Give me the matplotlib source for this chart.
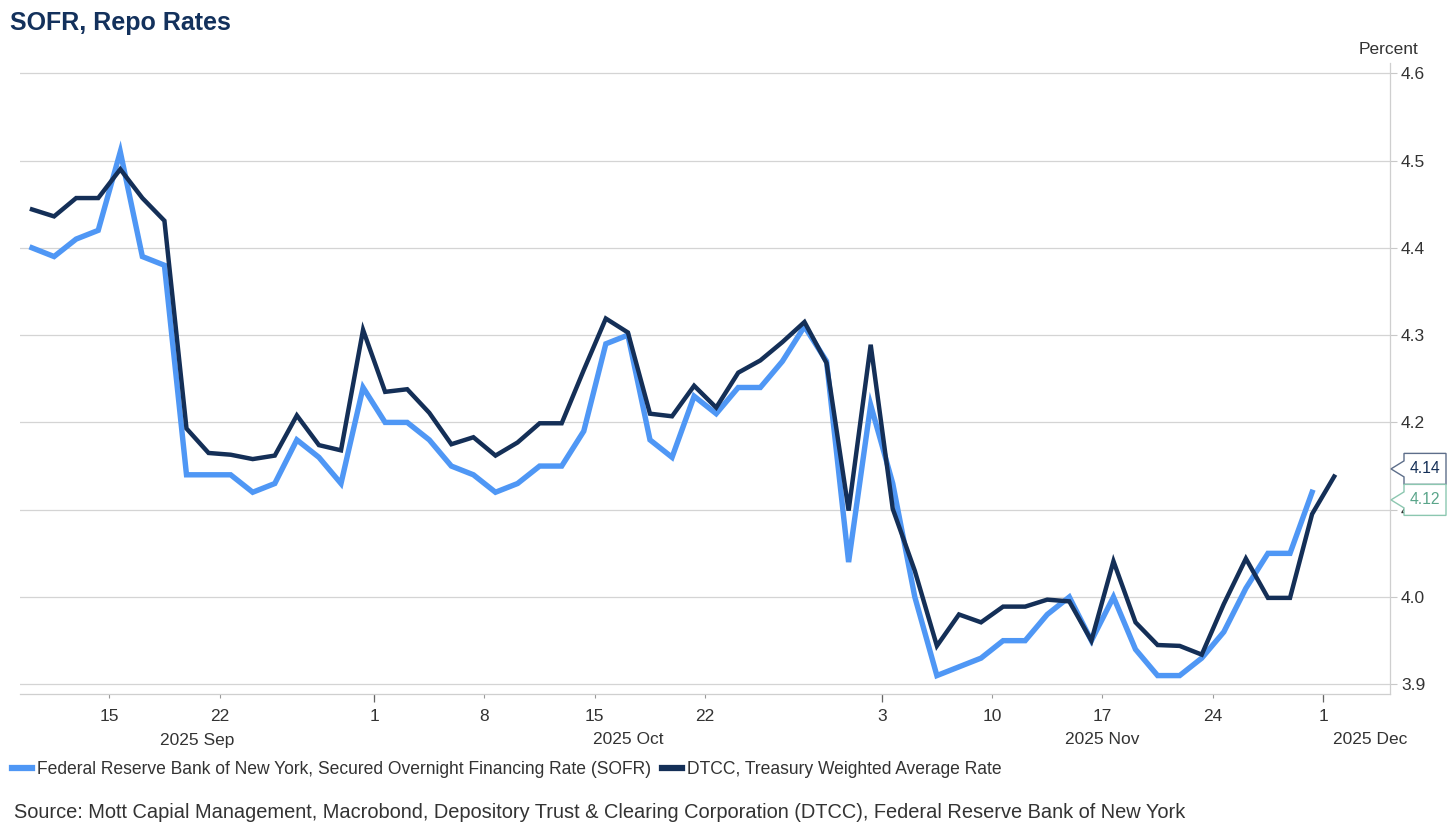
import matplotlib
matplotlib.use("Agg")
import matplotlib.pyplot as plt
import matplotlib.transforms as mtransforms
from matplotlib.patches import Polygon
import pandas as pd
import numpy as np

plt.rcParams['font.family'] = ['Liberation Sans', 'DejaVu Sans']

# ---------------- data ----------------
dates = pd.bdate_range("2025-09-09", "2025-12-01")

sofr = [4.40, 4.39, 4.41, 4.42, 4.51, 4.39, 4.38, 4.14, 4.14, 4.14,
        4.12, 4.13, 4.18, 4.16, 4.13, 4.24, 4.20, 4.20, 4.18, 4.15,
        4.14, 4.12, 4.13, 4.15, 4.15, 4.19, 4.29, 4.30, 4.18, 4.16,
        4.23, 4.21, 4.24, 4.24, 4.27, 4.31, 4.27, 4.04, 4.22, 4.13,
        4.00, 3.91, 3.92, 3.93, 3.95, 3.95, 3.98, 4.00, 3.95, 4.00,
        3.94, 3.91, 3.91, 3.93, 3.96, 4.01, 4.05, 4.05, 4.12]

dtcc = [4.444, 4.436, 4.457, 4.457, 4.490, 4.457, 4.431, 4.193, 4.165, 4.163,
        4.158, 4.162, 4.208, 4.174, 4.168, 4.306, 4.235, 4.238, 4.211, 4.175,
        4.183, 4.162, 4.177, 4.199, 4.199, 4.260, 4.319, 4.303, 4.210, 4.207,
        4.242, 4.217, 4.257, 4.271, 4.292, 4.315, 4.268, 4.099, 4.289, 4.101,
        4.030, 3.944, 3.980, 3.971, 3.989, 3.989, 3.997, 3.995, 3.950, 4.041,
        3.971, 3.945, 3.944, 3.934, 3.992, 4.044, 3.999, 3.999, 4.095, 4.138]

tick_dates = ["2025-09-15", "2025-09-22", "2025-10-01", "2025-10-08", "2025-10-15",
              "2025-10-22", "2025-11-03", "2025-11-10", "2025-11-17", "2025-11-24",
              "2025-12-01"]
month_labels = ["2025 Sep", "2025 Oct", "2025 Nov", "2025 Dec"]
series_names = ["Federal Reserve Bank of New York, Secured Overnight Financing Rate (SOFR)",
                "DTCC, Treasury Weighted Average Rate"]
yticks = [3.9, 4.0, 4.1, 4.2, 4.3, 4.4, 4.5, 4.6]

# ---------------- style ----------------
W, H = 1456, 839
C_SOFR = "#4F97F5"
C_DTCC = "#142F57"
C_TXT = "#333333"
C_GRID = "#d4d4d4"
C_GREEN = "#5aa58a"

fig = plt.figure(figsize=(W / 100, H / 100), dpi=100)
ax = fig.add_axes([20 / W, 1 - 694 / H, (1390 - 20) / W, (694 - 63) / H])

x_s = np.arange(len(sofr))
x_d = np.arange(len(dtcc))
ax.plot(x_s, sofr, color=C_SOFR, lw=3.9, solid_joinstyle='miter', zorder=3)
ax.plot(x_d, dtcc, color=C_DTCC, lw=3.2, solid_joinstyle='miter', zorder=4)

ax.set_xlim(-0.544, 61.53)
ax.set_ylim(3.8889, 4.6117)

# grid
ax.set_yticks(yticks)
ax.yaxis.grid(True, color=C_GRID, lw=0.9)
ax.set_axisbelow(True)
ax.yaxis.tick_right()
ax.tick_params(axis='y', length=5, width=0.8, color="#c8c8c8", labelsize=12.5,
               labelcolor=C_TXT, pad=3)
ax.set_yticklabels([f"{v:.1f}" for v in yticks])

for s in ['left', 'top']:
    ax.spines[s].set_visible(False)
for s in ['right', 'bottom']:
    ax.spines[s].set_color("#cfcfcf")
    ax.spines[s].set_linewidth(0.9)

# x ticks: positions at day boundaries (index - 0.5)
idx = {d.strftime("%Y-%m-%d"): i for i, d in enumerate(dates)}
tick_pos = [idx[t] - 0.5 for t in tick_dates]
tick_lab = [str(pd.Timestamp(t).day) for t in tick_dates]
ax.set_xticks(tick_pos)
ax.set_xticklabels(tick_lab)
ax.tick_params(axis='x', length=3, width=0.8, color="#999999", labelsize=12.5,
               labelcolor=C_TXT, pad=7.5)
month_pos = [p for p, t in zip(tick_pos, tick_dates) if pd.Timestamp(t).day <= 3]
ax.xaxis.remove_overlapping_locs = False
ax.set_xticks(month_pos, minor=True)
ax.tick_params(axis='x', which='minor', length=6, width=0.9, color="#666666")

# month labels centred on their span
xl, xr = ax.get_xlim()
bounds = [xl] + month_pos + [xr]
centres = [(bounds[i] + bounds[i + 1]) / 2 for i in range(len(bounds) - 1)]
centres[-1] = (1370 - 32) / 22.07
trans = mtransforms.blended_transform_factory(ax.transData, ax.transAxes)
y_month = ((1 - 740 / H) - (1 - 694 / H)) / ((694 - 63) / H)
for c, lab in zip(centres, month_labels):
    ax.text(c, y_month, lab, transform=trans, ha='center', va='center',
            fontsize=12.5, color=C_TXT, clip_on=False)

# title, unit, source
fig.text(10 / W, 1 - 23 / H, "SOFR, Repo Rates", fontsize=18, fontweight='bold',
         color="#13315C", ha='left', va='center')
fig.text(1418 / W, 1 - 50 / H, "Percent", fontsize=12.5, color=C_TXT,
         ha='right', va='center')
fig.text(14 / W, 1 - 812 / H,
         "Source: Mott Capial Management, Macrobond, Depository Trust & Clearing "
         "Corporation (DTCC), Federal Reserve Bank of New York",
         fontsize=14.45, color=C_TXT, ha='left', va='center')

# legend
leg = fig.legend([plt.Line2D([], [], color=C_SOFR, lw=4.5),
                  plt.Line2D([], [], color=C_DTCC, lw=4.5)],
                 series_names, loc='center left', bbox_to_anchor=(12 / W, 1 - 770 / H),
                 ncol=2, frameon=False, fontsize=12.65, handlelength=1.15,
                 handletextpad=0.25, columnspacing=0.65, labelcolor=C_TXT,
                 borderaxespad=0, borderpad=0)

# last-value labels on the right
def ypix(v):
    return ax.transData.transform((0, v))[1]

fig.canvas.draw()
last = [(dtcc[-1], C_DTCC, "#5d6e8a"), (sofr[-1], C_GREEN, "#8cc7b0")]
pys = [ypix(v) for v, *_ in last]   # display coords, origin bottom
boxh = 31
if abs(pys[0] - pys[1]) < boxh:
    m = (pys[0] + pys[1]) / 2
    hi = 0 if pys[0] >= pys[1] else 1
    pys[hi] = m + boxh / 2
    pys[1 - hi] = m - boxh / 2
for (v, tc, ec), py in zip(last, pys):
    x0, x1, tip = 1404, 1446, 1391
    verts = [(tip, py), (x0, py + 8), (x0, py + boxh / 2), (x1, py + boxh / 2),
             (x1, py - boxh / 2), (x0, py - boxh / 2), (x0, py - 8)]
    verts = [(a / W, b / H) for a, b in verts]
    fig.add_artist(Polygon(verts, closed=True, transform=fig.transFigure,
                           facecolor='white', edgecolor=ec, lw=1.0, zorder=10))
    fig.text((x0 + x1) / 2 / W, py / H, f"{v:.2f}", fontsize=11.3, color=tc,
             ha='center', va='center', zorder=11)

fig.savefig("out.png", dpi=100)
